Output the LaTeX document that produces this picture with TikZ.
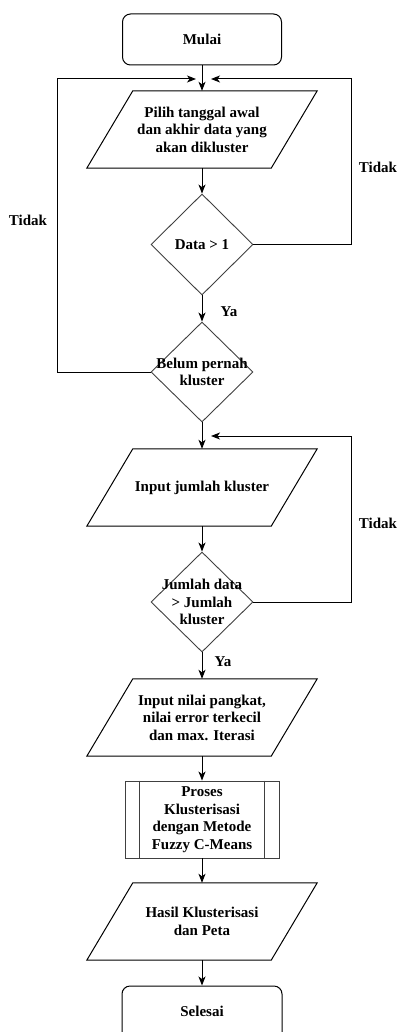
\documentclass[tikz,border=0pt]{standalone}
\usepackage{fontspec}
\setmainfont{Liberation Serif}
\usetikzlibrary{shapes.geometric,arrows.meta}
\begin{document}
\begin{tikzpicture}[x=1pt,y=-1pt,
  every node/.style={font=\fontsize{15}{17.5}\selectfont\bfseries, align=center, inner sep=0pt},
  flow/.style={line width=1pt, -{Stealth[length=9pt,width=7pt,inset=2.5pt]}},
  plain/.style={line width=1pt},
  terminal/.style={draw, line width=1pt, rounded corners=8pt, minimum width=159pt, minimum height=51pt},
  iobox/.style={minimum width=230pt, minimum height=77pt},
  decision/.style={diamond, draw=black!75, line width=0.9pt, minimum width=102pt, minimum height=101pt},
  procbox/.style={draw=black!75, line width=0.9pt, minimum width=154pt, minimum height=77pt},
  lbl/.style={}
]
\useasboundingbox (0,0) rectangle (400,1032);

% start / end (the end box runs past the lower edge of the page)
\node[terminal] (mulai) at (202,39.5) {Mulai};
\node[terminal, minimum width=160pt, minimum height=58pt] (selesai) at (202,1015) {};
\node (selesait) at (202,1011.5) {Selesai};

% input/output boxes (parallelograms drawn from the node corners)
\node[iobox] (p1) at (202,129.5) {Pilih tanggal awal\\dan akhir data yang\\akan dikluster};
\node[iobox] (p2) at (202,487.5) {Input jumlah kluster};
\node[iobox] (p3) at (202,717.5) {Input nilai pangkat,\\nilai error terkecil\\dan max. Iterasi};
\node[iobox] (p4) at (202,921.5) {Hasil Klusterisasi\\dan Peta};
\foreach \n in {p1,p2,p3,p4}{
  \draw[plain] (\n.south west) -- ([xshift=46pt]\n.north west) -- (\n.north east)
    -- ([xshift=-46pt]\n.south east) -- cycle;
}

% decisions
\node[decision] (d1) at (202,244.5) {};
\node (d1t) at (d1.center) {Data > 1};
\node[decision, minimum height=100pt] (d2) at (202,372) {};
\node (d2t) at (d2.center) {Belum pernah\\kluster};
\node[decision, minimum height=100pt] (d3) at (202,602) {};
\node (d3t) at (d3.center) {Jumlah data\\> Jumlah\\kluster};

% predefined process
\node[procbox] (proc) at (202,819.5) {Proses\\Klusterisasi\\dengan Metode\\Fuzzy C-Means};
\draw[draw=black!75, line width=0.9pt] ([xshift=15pt]proc.north west) -- ([xshift=15pt]proc.south west);
\draw[draw=black!75, line width=0.9pt] ([xshift=-15pt]proc.north east) -- ([xshift=-15pt]proc.south east);

% loop targets
\coordinate (inL1) at (196,79);
\coordinate (inR1) at (211,79);
\coordinate (inR2) at (211,436);

% main flow
\draw[flow] (mulai.south) -- (p1.north);
\draw[flow] (p1.south) -- (d1.north);
\draw[flow] (d1.south) -- (d2.north);
\draw[flow] (d2.south) -- (p2.north);
\draw[flow] (p2.south) -- (d3.north);
\draw[flow] (d3.south) -- (p3.north);
\draw[flow] (p3.south) -- (proc.north);
\draw[flow] (proc.south) -- (p4.north);
\draw[flow] (p4.south) -- (selesai.north);

% loops back
\draw[flow] (d1.east) -| (351,79) -- (inR1);
\draw[flow] (d2.west) -| (57,79) -- (inL1);
\draw[flow] (d3.east) -| (351,436) -- (inR2);

% branch labels
\node[lbl] (ya1) at (229,312) {Ya};
\node[lbl] (ya2) at (223,662) {Ya};
\node[lbl] (tidak1) at (378,167) {Tidak};
\node[lbl] (tidak2) at (28,220) {Tidak};
\node[lbl] (tidak3) at (378,523) {Tidak};
\end{tikzpicture}
\end{document}
